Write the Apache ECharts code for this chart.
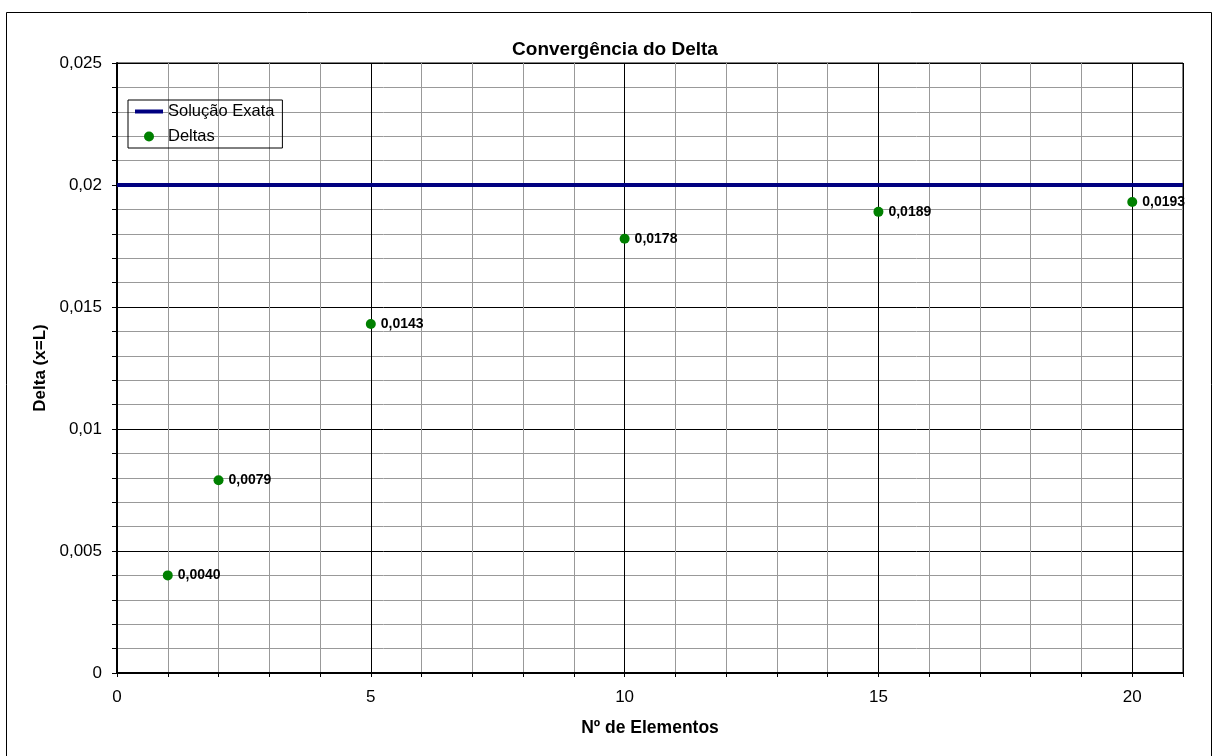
<!DOCTYPE html>
<html>
<head>
<meta charset="utf-8">
<script src="https://cdn.jsdelivr.net/npm/echarts@6/dist/echarts.min.js"></script>
<style>
	html, body { margin: 0; padding: 0; background: #fff; }
	#chart { width: 1217px; height: 756px; }
</style>
</head>
<body>
<div id="chart"></div>
<script>
	// dados
	var elementos = [1, 2, 5, 10, 15, 20];
	var deltas = [0.0040, 0.0079, 0.0143, 0.0178, 0.0189, 0.0193];
	var exataX = [0, 21];
	var exataY = [0.02, 0.02];

	var fmt = function(v, d) {
		return (d == null ? String(Number(v.toFixed(4))) : v.toFixed(d)).replace('.', ',');
	};

	var font = 'Liberation Sans, Arial, sans-serif';

	var pontos = elementos.map(function(x, i) { return [x, deltas[i]]; });
	var exata = exataX.map(function(x, i) { return [x, exataY[i]]; });

	var option = {
		animation: false,
		backgroundColor: '#fff',
		textStyle: { fontFamily: font },
		graphic: [{
			type: 'rect',
			shape: { x: 6.5, y: 12.5, width: 1205, height: 760 },
			style: { fill: 'none', stroke: '#000', lineWidth: 1 },
			silent: true
		}],
		title: {
			text: 'Convergência do Delta',
			left: 610,
			top: 35,
			textAlign: 'center',
			textStyle: { fontFamily: font, fontSize: 19, fontWeight: 'bold', color: '#000' }
		},
		legend: {
			orient: 'vertical',
			left: 128,
			top: 100,
			padding: [3, 8, 3, 7],
			itemGap: 8,
			itemWidth: 28,
			itemHeight: 10,
			borderColor: '#000',
			borderWidth: 1,
			borderRadius: 0,
			textStyle: { fontFamily: font, fontSize: 16.5, color: '#000', padding: [0, 0, 0, 0] },
			data: [
				{ name: 'Solução Exata', icon: 'path://M0,0 h28 v4 h-28 z' },
				{ name: 'Deltas', icon: 'circle' }
			]
		},
		grid: { left: 117, top: 63, right: 34, bottom: 83, show: true, borderColor: '#000', borderWidth: 1 },
		xAxis: [{
			type: 'value',
			min: 0,
			max: 21,
			interval: 1,
			name: 'Nº de Elementos',
			nameLocation: 'middle',
			nameGap: 46,
			nameTextStyle: { fontFamily: font, fontSize: 17.5, fontWeight: 'bold', color: '#000' },
			axisLine: { lineStyle: { color: '#000', width: 2 } },
			axisTick: { show: true, length: 4, lineStyle: { color: '#000' } },
			axisLabel: {
				margin: 16,
				fontFamily: font,
				fontSize: 17,
				color: '#000',
				formatter: function(v) { return v % 5 === 0 ? String(v) : ''; }
			},
			splitLine: { show: true, lineStyle: { color: '#999', width: 1 } }
		}, {
			type: 'value',
			min: 0,
			max: 21,
			interval: 5,
			position: 'bottom',
			axisLine: { show: false },
			axisTick: { show: false },
			axisLabel: { show: false },
			splitLine: { show: true, lineStyle: { color: '#000', width: 1 } }
		}],
		yAxis: {
			type: 'value',
			min: 0,
			max: 0.025,
			interval: 0.005,
			name: 'Delta (x=L)',
			nameLocation: 'middle',
			nameGap: 68,
			nameTextStyle: { fontFamily: font, fontSize: 17, fontWeight: 'bold', color: '#000' },
			axisLine: { show: true, lineStyle: { color: '#000', width: 2 } },
			axisTick: { show: true, length: 5, lineStyle: { color: '#000' } },
			minorTick: { show: true, splitNumber: 5, length: 5, lineStyle: { color: '#000' } },
			axisLabel: {
				margin: 15,
				fontFamily: font,
				fontSize: 17,
				color: '#000',
				formatter: function(v) { return fmt(v); }
			},
			splitLine: { show: true, lineStyle: { color: '#000', width: 1 } },
			minorSplitLine: { show: true, lineStyle: { color: '#999', width: 1 } }
		},
		series: [{
			name: 'Solução Exata',
			type: 'line',
			data: exata,
			symbol: 'none',
			z: 3,
			lineStyle: { color: '#000080', width: 4 },
			itemStyle: { color: '#000080' }
		}, {
			name: 'Deltas',
			type: 'scatter',
			data: pontos,
			symbolSize: 10,
			z: 4,
			itemStyle: { color: '#008000', opacity: 1 },
			label: {
				show: true,
				position: 'right',
				distance: 5,
				fontFamily: font,
				fontSize: 14,
				fontWeight: 'bold',
				color: '#000',
				formatter: function(p) { return fmt(p.value[1], 4); }
			}
		}]
	};

	var chart = echarts.init(document.getElementById('chart'));
	chart.setOption(option);
</script>
</body>
</html>
